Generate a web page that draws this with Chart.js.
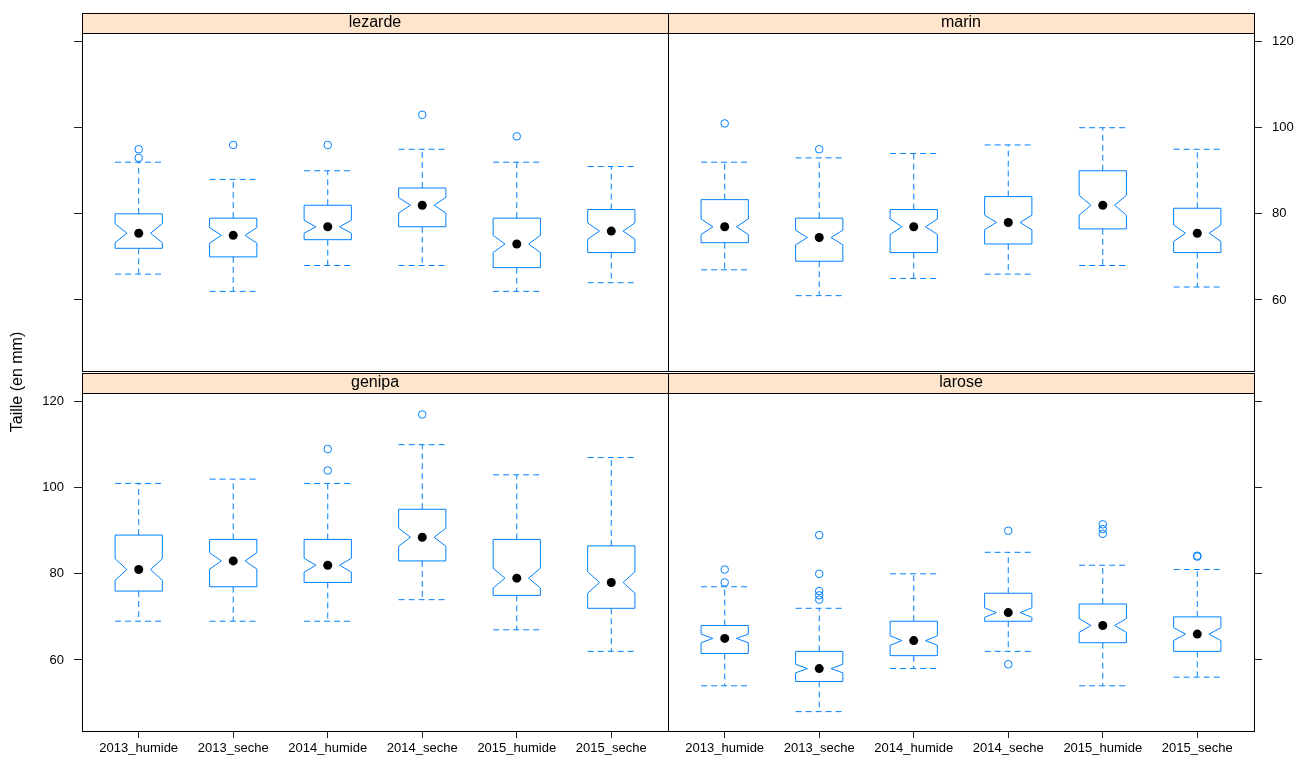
<!DOCTYPE html>
<html>
<head>
<meta charset="utf-8">
<script src="https://cdn.jsdelivr.net/npm/chart.js@4.4.1/dist/chart.umd.min.js"></script>
<style>
  html, body { margin: 0; padding: 0; background: #fff; }
  #wrap { position: relative; width: 1310px; height: 758px; }
  #wrap canvas { position: absolute; left: 0; top: 0; }
</style>
</head>
<body>
<div id="wrap">
  <canvas id="p_lezarde" width="1310" height="758"></canvas>
  <canvas id="p_marin" width="1310" height="758"></canvas>
  <canvas id="p_genipa" width="1310" height="758"></canvas>
  <canvas id="p_larose" width="1310" height="758"></canvas>
</div>
<script>
// categories (saison) and panels (site)
const groups = ['2013_humide', '2013_seche', '2014_humide', '2014_seche', '2015_humide', '2015_seche'];
const yTicks = [60, 80, 100, 120];

// box statistics, one row per site
const medians = {
    lezarde: [75.5, 75, 77, 82, 73, 76],
    marin:   [77, 74.5, 77, 78, 82, 75.5],
    genipa:  [81, 83, 82, 88.5, 79, 78],
    larose:  [65, 58, 64.5, 71, 68, 66]
};
const q1 = {
    lezarde: [72, 70, 74, 77, 67.5, 71],
    marin:   [73.3, 69, 71, 73, 76.5, 71],
    genipa:  [76, 77, 78, 83, 75, 72],
    larose:  [61.5, 55, 61, 69, 64, 62]
};
const q3 = {
    lezarde: [80, 79, 82, 86, 79, 81],
    marin:   [83.3, 79, 81, 84, 90, 81.3],
    genipa:  [89, 88, 88, 95, 88, 86.5],
    larose:  [68, 62, 69, 75.5, 73, 70]
};
const whiskLo = {
    lezarde: [66, 62, 68, 68, 62, 64],
    marin:   [67, 61, 65, 66, 68, 63],
    genipa:  [69, 69, 69, 74, 67, 62],
    larose:  [54, 48, 58, 62, 54, 56]
};
const whiskHi = {
    lezarde: [92, 88, 90, 95, 92, 91],
    marin:   [92, 93, 94, 96, 100, 95],
    genipa:  [101, 102, 101, 110, 103, 107],
    larose:  [77, 72, 80, 85, 82, 81]
};
const notchLo = {
    lezarde: [73.3, 73.2, 75.5, 80.2, 71, 74.1],
    marin:   [75.2, 72.8, 75.2, 76.3, 79.7, 73.6],
    genipa:  [78.5, 81.1, 80.4, 86.4, 76.7, 75.5],
    larose:  [64, 57, 63.4, 69.9, 66.4, 64.5]
};
const notchHi = {
    lezarde: [77.7, 76.8, 78.5, 83.8, 75, 77.9],
    marin:   [78.8, 76.2, 78.8, 79.7, 84.3, 77.4],
    genipa:  [83.5, 84.9, 83.6, 90.6, 81.3, 80.5],
    larose:  [66, 59, 65.6, 72.1, 69.6, 67.5]
};
const outliers = {
    lezarde: [[95, 93], [96], [96], [103], [98], []],
    marin:   [[101], [95], [], [], [], []],
    genipa:  [[], [], [109, 104], [117], [], []],
    larose:  [[81, 78], [89, 80, 76, 75, 74], [], [90, 59], [91.5, 90.4, 89.3], [84, 84.2]]
};

const BLUE = '#0080ff';
const FONT = "'Liberation Sans', Arial, sans-serif";
Chart.defaults.font.family = FONT;
Chart.defaults.color = '#000';

const panelPlugin = {
    id: 'panel',
    beforeDatasetsDraw(chart, args, opts) {
        const { ctx, scales: { x, y } } = chart;
        const site = opts.site;
        ctx.save();
        ctx.strokeStyle = BLUE;
        ctx.lineWidth = 1;
        groups.forEach((g, i) => {
            const c = x.getPixelForValue(i + 1);
            const hw = x.getPixelForValue(i + 1.25) - c;
            const yq1 = y.getPixelForValue(q1[site][i]);
            const yq3 = y.getPixelForValue(q3[site][i]);
            const ym = y.getPixelForValue(medians[site][i]);
            const ynl = y.getPixelForValue(notchLo[site][i]);
            const ynh = y.getPixelForValue(notchHi[site][i]);
            const ylo = y.getPixelForValue(whiskLo[site][i]);
            const yhi = y.getPixelForValue(whiskHi[site][i]);

            // whiskers
            ctx.setLineDash([6, 4]);
            ctx.beginPath();
            ctx.moveTo(c, yq3); ctx.lineTo(c, yhi);
            ctx.moveTo(c - hw, yhi); ctx.lineTo(c + hw, yhi);
            ctx.moveTo(c, yq1); ctx.lineTo(c, ylo);
            ctx.moveTo(c - hw, ylo); ctx.lineTo(c + hw, ylo);
            ctx.stroke();

            // notched box
            ctx.setLineDash([]);
            ctx.beginPath();
            ctx.moveTo(c - hw, yq3);
            ctx.lineTo(c + hw, yq3);
            ctx.lineTo(c + hw, ynh);
            ctx.lineTo(c + hw / 2, ym);
            ctx.lineTo(c + hw, ynl);
            ctx.lineTo(c + hw, yq1);
            ctx.lineTo(c - hw, yq1);
            ctx.lineTo(c - hw, ynl);
            ctx.lineTo(c - hw / 2, ym);
            ctx.lineTo(c - hw, ynh);
            ctx.closePath();
            ctx.stroke();
        });
        ctx.restore();
    },
    afterDraw(chart, args, opts) {
        const { ctx, chartArea: a } = chart;
        ctx.save();
        // strip
        ctx.fillStyle = '#ffe5cc';
        ctx.fillRect(a.left, a.top - 20, a.right - a.left, 20);
        ctx.strokeStyle = '#000';
        ctx.lineWidth = 1;
        ctx.strokeRect(a.left + 0.5, a.top - 20 + 0.5, a.right - a.left, 20);
        ctx.fillStyle = '#000';
        ctx.font = '16px ' + FONT;
        ctx.textAlign = 'center';
        ctx.textBaseline = 'middle';
        ctx.fillText(opts.site, (a.left + a.right) / 2, a.top - 10);
        // panel frame
        ctx.strokeRect(a.left + 0.5, a.top + 0.5, a.right - a.left, a.bottom - a.top);
        // y axis title
        if (opts.ylab) {
            ctx.translate(18, 382);
            ctx.rotate(-Math.PI / 2);
            ctx.font = '16px ' + FONT;
            ctx.fillText(opts.ylab, 0, 0);
        }
        ctx.restore();
    }
};

function makePanel(site, area, yPos, showYLabels, showX, ylab) {
    const yW = 60;
    const xH = 27;
    const padding = {
        top: area.top,
        bottom: showX ? 758 - area.bottom - xH : 758 - area.bottom,
        left: yPos === 'left' ? area.left - yW : area.left,
        right: yPos === 'right' ? 1310 - area.right - yW : 1310 - area.right
    };
    const medPts = medians[site].map((v, i) => ({ x: i + 1, y: v }));
    const outPts = [];
    outliers[site].forEach((vals, i) => vals.forEach(v => outPts.push({ x: i + 1, y: v })));

    new Chart(document.getElementById('p_' + site), {
        type: 'scatter',
        data: {
            datasets: [{
                label: 'median',
                data: medPts,
                pointRadius: 4.5,
                pointBackgroundColor: '#000',
                pointBorderWidth: 0
            }, {
                label: 'outliers',
                data: outPts,
                pointRadius: 3.8,
                pointBackgroundColor: 'rgba(0,0,0,0)',
                pointBorderColor: BLUE,
                pointBorderWidth: 1
            }]
        },
        options: {
            responsive: false,
            animation: false,
            events: [],
            layout: { padding: padding },
            plugins: {
                legend: { display: false },
                tooltip: { enabled: false },
                panel: { site: site, ylab: ylab }
            },
            scales: {
                x: {
                    type: 'linear',
                    min: 0.4,
                    max: 6.6,
                    display: showX,
                    afterBuildTicks: s => { s.ticks = groups.map((g, i) => ({ value: i + 1 })); },
                    afterFit: s => { s.height = showX ? xH : 0; },
                    border: { display: false },
                    grid: { drawOnChartArea: false, drawTicks: true, tickLength: 7, tickColor: '#222' },
                    ticks: {
                        autoSkip: false,
                        maxRotation: 0,
                        padding: 3,
                        font: { size: 13 },
                        callback: v => groups[v - 1]
                    }
                },
                y: {
                    type: 'linear',
                    position: yPos,
                    min: 43.5,
                    max: 122,
                    afterBuildTicks: s => { s.ticks = yTicks.map(v => ({ value: v })); },
                    afterFit: s => { s.width = yW; },
                    border: { display: false },
                    grid: { drawOnChartArea: false, drawTicks: true, tickLength: 8, tickColor: '#222' },
                    ticks: {
                        display: showYLabels,
                        padding: 10,
                        font: { size: 13 }
                    }
                }
            }
        },
        plugins: [panelPlugin]
    });
}

makePanel('lezarde', { left: 82, top: 33, right: 668, bottom: 371 }, 'left', false, false, null);
makePanel('marin', { left: 668, top: 33, right: 1254, bottom: 371 }, 'right', true, false, null);
makePanel('genipa', { left: 82, top: 393, right: 668, bottom: 731 }, 'left', true, true, 'Taille (en mm)');
makePanel('larose', { left: 668, top: 393, right: 1254, bottom: 731 }, 'right', false, true, null);
</script>
</body>
</html>
